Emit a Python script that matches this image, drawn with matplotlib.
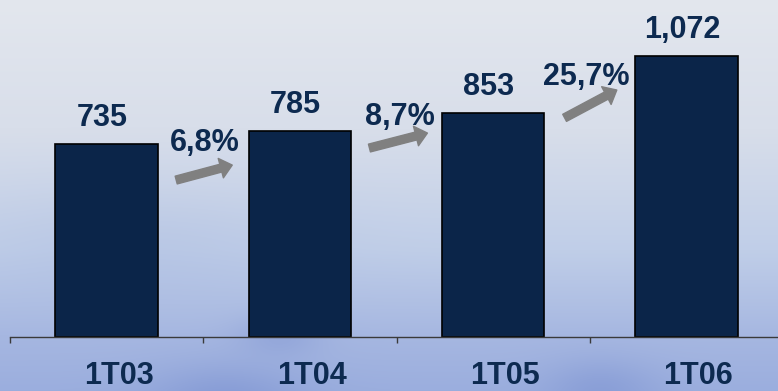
import numpy as np
import matplotlib
matplotlib.use("Agg")
import matplotlib.pyplot as plt
from matplotlib.transforms import ScaledTranslation

plt.rcParams['font.family'] = ['Liberation Sans', 'DejaVu Sans']

# Data
periods = ["1T03", "1T04", "1T05", "1T06"]
values = [735, 785, 853, 1072]

# Growth between consecutive periods, written with a decimal comma
growth = [(values[i + 1] / values[i] - 1) * 100 for i in range(len(values) - 1)]
growth_labels = [f"{g:.1f}".replace(".", ",") + "%" for g in growth]

# Layout of growth labels and arrows (data coordinates)
growth_label_pos = [(0.51, 709), (1.52, 808), (2.48, 960)]
arrow_tails = [(0.36, 598), (1.36, 720), (2.37, 835)]
arrow_tips = [(0.65, 655), (1.66, 777), (2.64, 941)]

navy = "#0B2549"
text_navy = "#0D2A50"

fig = plt.figure(figsize=(7.78, 3.91), dpi=100)

# Background: soft vertical gradient with a few faint clouds
bg = fig.add_axes([0, 0, 1, 1], zorder=0)
bg.set_axis_off()
H, W = 391, 778
yy, xx = np.mgrid[0:H, 0:W]
stops = [(0.0, (227, 231, 238)), (0.33, (216, 222, 234)), (0.64, (192, 206, 232)),
         (0.86, (166, 183, 225)), (1.0, (155, 174, 222))]
t = yy / (H - 1)
img = np.zeros((H, W, 3))
for c in range(3):
    img[..., c] = np.interp(t, [s[0] for s in stops], [s[1][c] for s in stops])
clouds = [(225, 400, 55, 25, 0.35), (280, 335, 30, 15, 0.25), (600, 390, 40, 22, 0.3),
          (140, 240, 120, 40, 0.08)]
dark = np.array([100, 125, 200])
for cx, cy, sx, sy, a in clouds:
    g = a * np.exp(-(((xx - cx) / sx) ** 2 + ((yy - cy) / sy) ** 2) / 2)
    for c in range(3):
        img[..., c] = img[..., c] * (1 - g) + dark[c] * g
bg.imshow(img / 255.0, aspect="auto", extent=[0, 1, 0, 1], origin="upper")
bg.set_xlim(0, 1)
bg.set_ylim(0, 1)

# Main chart
ax = fig.add_axes([10 / 778, 54 / 391, 773 / 778, 337 / 391], zorder=1)
ax.patch.set_alpha(0)
x = np.arange(len(periods))
ax.bar(x, values, width=0.53, color=navy, edgecolor="black", linewidth=1.2, zorder=2)
ax.set_xlim(-0.5, len(periods) - 0.5)
ax.set_ylim(0, 1284)

for s in ["top", "right", "left"]:
    ax.spines[s].set_visible(False)
ax.spines["bottom"].set_color("#3a3a3a")
ax.spines["bottom"].set_linewidth(1.0)
ax.set_yticks([])

ax.set_xticks(np.arange(-0.5, len(periods) + 0.5, 1.0), minor=True)
ax.tick_params(axis="x", which="minor", length=4, width=1, color="#3a3a3a", direction="out")
ax.set_xticks(x, periods)
ax.tick_params(axis="x", which="major", length=0, pad=17)
for lab in ax.get_xticklabels():
    lab.set_fontsize(22)
    lab.set_fontweight("bold")
    lab.set_color(text_navy)
    lab.set_transform(lab.get_transform() + ScaledTranslation(12 / 100, 0, fig.dpi_scale_trans))

# Value labels above bars
for xi, v in zip(x, values):
    ax.annotate(f"{v:,}", (xi, v), xytext=(-3, 13), textcoords="offset points",
                ha="center", va="baseline", fontsize=22, fontweight="bold", color=text_navy)

# Growth labels and arrows
for (lx, ly), lbl in zip(growth_label_pos, growth_labels):
    ax.text(lx, ly, lbl, ha="center", va="baseline", fontsize=22,
            fontweight="bold", color=text_navy)
for tail, tip in zip(arrow_tails, arrow_tips):
    ax.annotate("", xy=tip, xytext=tail,
                arrowprops=dict(arrowstyle="simple,head_length=0.5,head_width=0.85,tail_width=0.34",
                                mutation_scale=17, color="#808080", shrinkA=0, shrinkB=0))

fig.savefig("out.png", dpi=100)
